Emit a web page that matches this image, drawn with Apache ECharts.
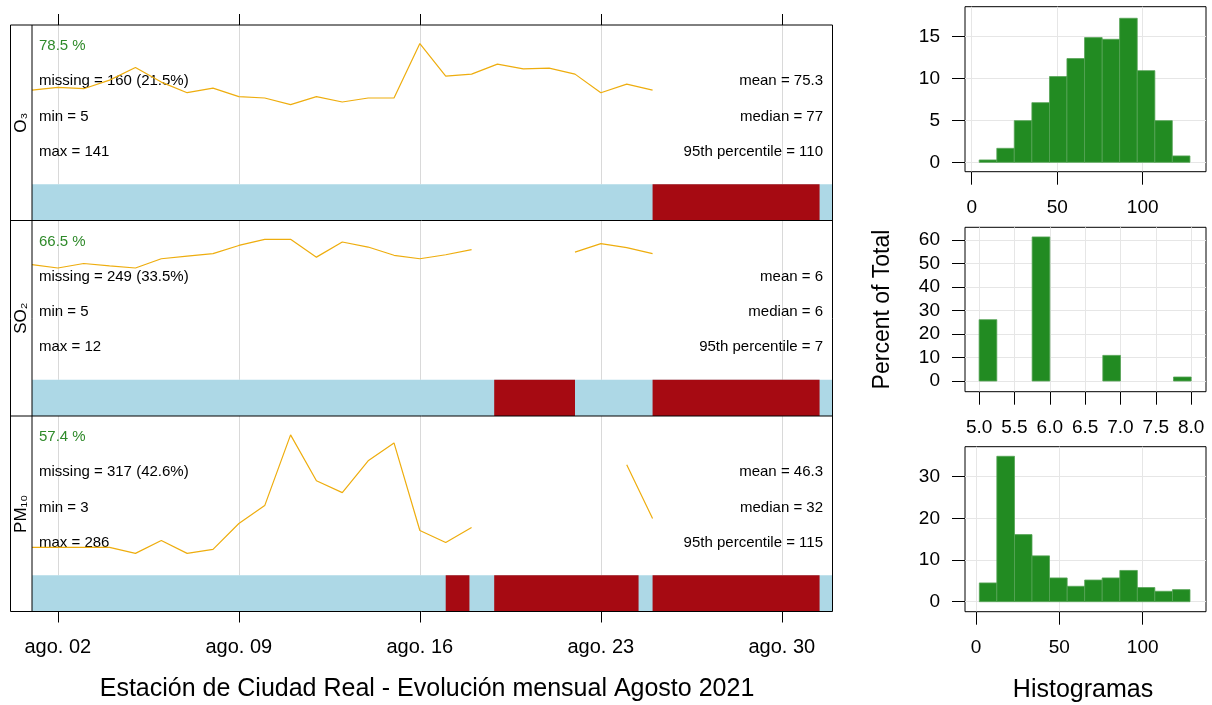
<!DOCTYPE html>
<html><head><meta charset="utf-8">
<script src="https://cdn.jsdelivr.net/npm/echarts@6/dist/echarts.min.js"></script>
<style>html,body{margin:0;padding:0;background:#fff}#c{width:1212px;height:705px}</style>
</head><body><div id="c"></div>
<script>
// ---------------- DATA ----------------
const days = ['2021-08-01','2021-08-02','2021-08-03','2021-08-04','2021-08-05','2021-08-06','2021-08-07','2021-08-08','2021-08-09','2021-08-10',
  '2021-08-11','2021-08-12','2021-08-13','2021-08-14','2021-08-15','2021-08-16','2021-08-17','2021-08-18','2021-08-19','2021-08-20',
  '2021-08-21','2021-08-22','2021-08-23','2021-08-24','2021-08-25','2021-08-26','2021-08-27','2021-08-28','2021-08-29','2021-08-30','2021-08-31'];
const o3Daily = [71,73,72,78.5,88,77,69,72.5,66,65,60,66,62,65,65,106,81.5,83,90.5,87,87.5,83,69,75.5,71,null,null,null,null,null,null];
const so2Daily = [6.34,6.21,6.38,6.29,6.21,6.56,6.66,6.75,7.06,7.29,7.29,6.62,7.19,7.0,6.69,6.56,6.71,6.9,null,null,null,6.81,7.13,6.98,6.75,null,null,null,null,null,null];
const pm10Daily = [28,28,28,28,22,35,22,26,52,70,141,95,83,115,133,45,33,48,null,null,null,null,null,111,57,null,null,null,null,null,null];

const pollutants = ['O\u2083','SO\u2082','PM\u2081\u2080'];
const captureTxt = ['78.5 %','66.5 %','57.4 %'];
const missingTxt = ['missing = 160 (21.5%)','missing = 249 (33.5%)','missing = 317 (42.6%)'];
const minTxt = ['min = 5','min = 5','min = 3'];
const maxTxt = ['max = 141','max = 12','max = 286'];
const meanTxt = ['mean = 75.3','mean = 6','mean = 46.3'];
const medianTxt = ['median = 77','median = 6','median = 32'];
const p95Txt = ['95th percentile = 110','95th percentile = 7','95th percentile = 115'];

const rangeStart = '2021-08-01 00:00', rangeEnd = '2021-08-31 23:00';
const o3Missing = [['2021-08-25 00:00','2021-08-31 11:00']];
const so2Missing = [['2021-08-18 21:00','2021-08-22 00:00'],['2021-08-25 00:00','2021-08-31 11:00']];
const pm10Missing = [['2021-08-17 00:00','2021-08-17 22:00'],['2021-08-18 21:00','2021-08-24 11:00'],['2021-08-25 00:00','2021-08-31 11:00']];

const xTicks = ['2021-08-02','2021-08-09','2021-08-16','2021-08-23','2021-08-30'];
const xTickLabels = ['ago. 02','ago. 09','ago. 16','ago. 23','ago. 30'];
const xTitle = 'Estación de Ciudad Real - Evolución mensual Agosto 2021';

// histograms (percent of total)
const o3BinEdges = [4.4,14.7,24.9,35.2,45.5,55.7,66.0,76.3,86.5,96.8,107.1,117.3,127.6];
const o3Hist = [0.28,1.67,4.97,7.12,10.23,12.38,14.88,14.68,17.19,10.94,4.97,0.76];
const so2BinEdges = [[5.0,5.25],[5.75,6.0],[6.75,7.0],[7.75,8.0]];
const so2Hist = [26.1,61.3,10.9,1.7];
const pm10BinEdges = [2.0,12.5,23.1,33.6,44.1,54.7,65.2,75.7,86.3,96.8,107.3,117.9,128.4];
const pm10Hist = [4.5,34.9,16.1,11.0,5.7,3.7,5.2,5.7,7.5,3.4,2.5,2.9];
const h1XTicks = [0,50,100], h1YTicks = [0,5,10,15];
const h2XTicks = [5.0,5.5,6.0,6.5,7.0,7.5,8.0], h2XLabels = ['5.0','5.5','6.0','6.5','7.0','7.5','8.0'], h2YTicks = [0,10,20,30,40,50,60];
const h3XTicks = [0,50,100], h3YTicks = [0,10,20,30];
const histYTitle = 'Percent of Total';
const histXTitle = 'Histogramas';

// ---------------- CHART ----------------
const T = s => { const p = s.split(' '); const d = p[0].split('-').map(Number); const t = (p[1] || '00:00').split(':').map(Number); return Date.UTC(d[0], d[1]-1, d[2], t[0], t[1]); };
const xMin = T(rangeStart), xMax = T(rangeEnd);
const FONT = "'Liberation Sans', Arial, 'DejaVu Sans', sans-serif";
const panelTops = [25, 220.5, 416];
const LINE_H = 159.3, BAND_H = 36.2, GL = 32, GRIGHT = 1212 - 832.5;
const lineData = [o3Daily, so2Daily, pm10Daily];
const yRanges = [[0,120],[2,8],[0,160]];
const missing = [o3Missing, so2Missing, pm10Missing];
const tickVals = xTicks.map(T);
const nearest = (arr, v) => { let best = 0; arr.forEach((t,k) => { if (Math.abs(t - v) < Math.abs(arr[best] - v)) best = k; }); return best; };

function bandRender(params, api){
  const a = api.coord([api.value(0), 1]);
  const b = api.coord([api.value(1), 0]);
  return {type:'rect', shape:{x:a[0], y:a[1], width:b[0]-a[0], height:b[1]-a[1]},
    style:{fill: api.value(2) ? '#A60A12' : '#ADD8E6'}};
}
function histRender(params, api){
  const a = api.coord([api.value(0), api.value(2)]);
  const b = api.coord([api.value(1), 0]);
  return {type:'rect', shape:{x:a[0], y:a[1], width:b[0]-a[0], height:b[1]-a[1]},
    style:{fill:'#228B22', stroke:'#55a355', lineWidth:0.8}};
}

const grids = [], xAxes = [], yAxes = [], series = [];
for (let i = 0; i < 3; i++) {
  grids.push({left:GL, right:GRIGHT, top:panelTops[i], height:LINE_H, outerBoundsMode:'none'});
  grids.push({left:GL, right:GRIGHT, top:panelTops[i] + LINE_H, height:BAND_H, outerBoundsMode:'none'});
  xAxes.push({type:'value', gridIndex:2*i, min:xMin, max:xMax, position:'top',
    axisLine:{show:false, onZero:false},
    axisTick:{show:i === 0, customValues:tickVals, length:11, lineStyle:{color:'#000', width:1}},
    axisLabel:{show:false, customValues:tickVals},
    splitLine:{show:true, lineStyle:{color:'#d9d9d9', width:1}}});
  xAxes.push({type:'value', gridIndex:2*i+1, min:xMin, max:xMax, position:'bottom',
    axisLine:{show:false, onZero:false},
    axisTick:{show:i === 2, customValues:tickVals, length:11, lineStyle:{color:'#000', width:1}},
    axisLabel:{show:i === 2, customValues:tickVals, fontSize:20, margin:26, color:'#000', fontFamily:FONT,
      formatter: v => xTickLabels[nearest(tickVals, v)]},
    splitLine:{show:false}});
  yAxes.push({type:'value', gridIndex:2*i, min:yRanges[i][0], max:yRanges[i][1], show:false, axisLine:{onZero:false}});
  yAxes.push({type:'value', gridIndex:2*i+1, min:0, max:1, show:false, axisLine:{onZero:false}});
  series.push({type:'line', xAxisIndex:2*i, yAxisIndex:2*i, data:days.map((d,k) => [T(d), lineData[i][k]]),
    showSymbol:false, symbol:'none', connectNulls:false, lineStyle:{color:'#EEAD0E', width:1.2}, z:3, animation:false});
  const segs = [[xMin, xMax, 0]].concat(missing[i].map(m => [T(m[0]), T(m[1]), 1]));
  series.push({type:'custom', xAxisIndex:2*i+1, yAxisIndex:2*i+1, data:segs, renderItem:bandRender,
    encode:{x:[0,1]}, animation:false, silent:true});
}

// histograms
const o3Bars = o3Hist.map((h,k) => [o3BinEdges[k], o3BinEdges[k+1], h]);
const so2Bars = so2Hist.map((h,k) => [so2BinEdges[k][0], so2BinEdges[k][1], h]);
const pm10Bars = pm10Hist.map((h,k) => [pm10BinEdges[k], pm10BinEdges[k+1], h]);
const hists = [
  {top:6.7, height:165, xr:[-3.9,137], yr:[-1.12,18.57], xt:h1XTicks, yt:h1YTicks, bars:o3Bars, xf:v => String(Math.round(v))},
  {top:227.3, height:164.4, xr:[4.8,8.21], yr:[-4.55,65.4], xt:h2XTicks, yt:h2YTicks, bars:so2Bars,
    xf:v => h2XLabels[nearest(h2XTicks, v)]},
  {top:446.7, height:165, xr:[-6.6,138], yr:[-2.4,37.2], xt:h3XTicks, yt:h3YTicks, bars:pm10Bars, xf:v => String(Math.round(v))}
];
hists.forEach((h, j) => {
  const gi = grids.length;
  grids.push({left:965, width:241, top:h.top, height:h.height, show:true, borderColor:'#000', borderWidth:1,
    backgroundColor:'transparent', outerBoundsMode:'none'});
  xAxes.push({type:'value', gridIndex:gi, min:h.xr[0], max:h.xr[1], position:'bottom',
    axisLine:{show:false, onZero:false},
    axisTick:{show:true, customValues:h.xt, length:13, lineStyle:{color:'#000'}},
    axisLabel:{show:true, customValues:h.xt, fontSize:19, margin:27, color:'#000', fontFamily:FONT, formatter:h.xf},
    splitLine:{show:true, lineStyle:{color:'#e6e6e6', width:1}}});
  yAxes.push({type:'value', gridIndex:gi, min:h.yr[0], max:h.yr[1], position:'left',
    axisLine:{show:false, onZero:false},
    axisTick:{show:true, customValues:h.yt, length:13, lineStyle:{color:'#000'}},
    axisLabel:{show:true, customValues:h.yt, fontSize:19, margin:25, color:'#000', fontFamily:FONT, formatter:v => String(Math.round(v))},
    splitLine:{show:true, lineStyle:{color:'#e6e6e6', width:1}}});
  series.push({type:'custom', xAxisIndex:gi, yAxisIndex:gi, data:h.bars, renderItem:histRender,
    encode:{x:[0,1], y:2}, animation:false, silent:true});
});

// graphics: frames and texts
const g = [];
const L = 10.5, R = 832.5, TOP = 25, BOT = 611.5;
const line = (x1,y1,x2,y2) => ({type:'line', z:100, shape:{x1,y1,x2,y2}, style:{stroke:'#000', lineWidth:1}, silent:true});
g.push({type:'rect', z:100, shape:{x:L, y:TOP, width:R-L, height:BOT-TOP}, style:{fill:'none', stroke:'#000', lineWidth:1}, silent:true});
g.push(line(GL, TOP, GL, BOT));
g.push(line(L, panelTops[1], R, panelTops[1]));
g.push(line(L, panelTops[2], R, panelTops[2]));
const txt = (x, y, text, opts) => Object.assign({type:'text', z:1, x, y, silent:true,
  style:Object.assign({text, fontFamily:FONT, fontSize:15, fill:'#000', align:'left', verticalAlign:'middle'}, opts || {})});
for (let i = 0; i < 3; i++) {
  const t = panelTops[i];
  g.push(txt(39, t + 21, captureTxt[i], {fill:'#2f8a2a'}));
  g.push(txt(39, t + 56, missingTxt[i]));
  g.push(txt(39, t + 91.5, minTxt[i]));
  g.push(txt(39, t + 126.5, maxTxt[i]));
  g.push(txt(823, t + 56, meanTxt[i], {align:'right'}));
  g.push(txt(823, t + 91.5, medianTxt[i], {align:'right'}));
  g.push(txt(823, t + 126.5, p95Txt[i], {align:'right'}));
  const strip = txt(21.5, t + 97.75, pollutants[i], {fontSize:17, align:'center'});
  strip.rotation = Math.PI / 2;
  g.push(strip);
}
g.push(txt(427, 689, xTitle, {fontSize:25, align:'center'}));
g.push(txt(1083, 690, histXTitle, {fontSize:25, align:'center'}));
const yt = txt(883, 309.5, histYTitle, {fontSize:23, align:'center'});
yt.rotation = Math.PI / 2;
g.push(yt);

const chart = echarts.init(document.getElementById('c'), null, {renderer:'canvas'});
chart.setOption({
  animation:false,
  backgroundColor:'#fff',
  grid:grids, xAxis:xAxes, yAxis:yAxes, series:series,
  graphic:{elements:g}
});
</script>
</body></html>
